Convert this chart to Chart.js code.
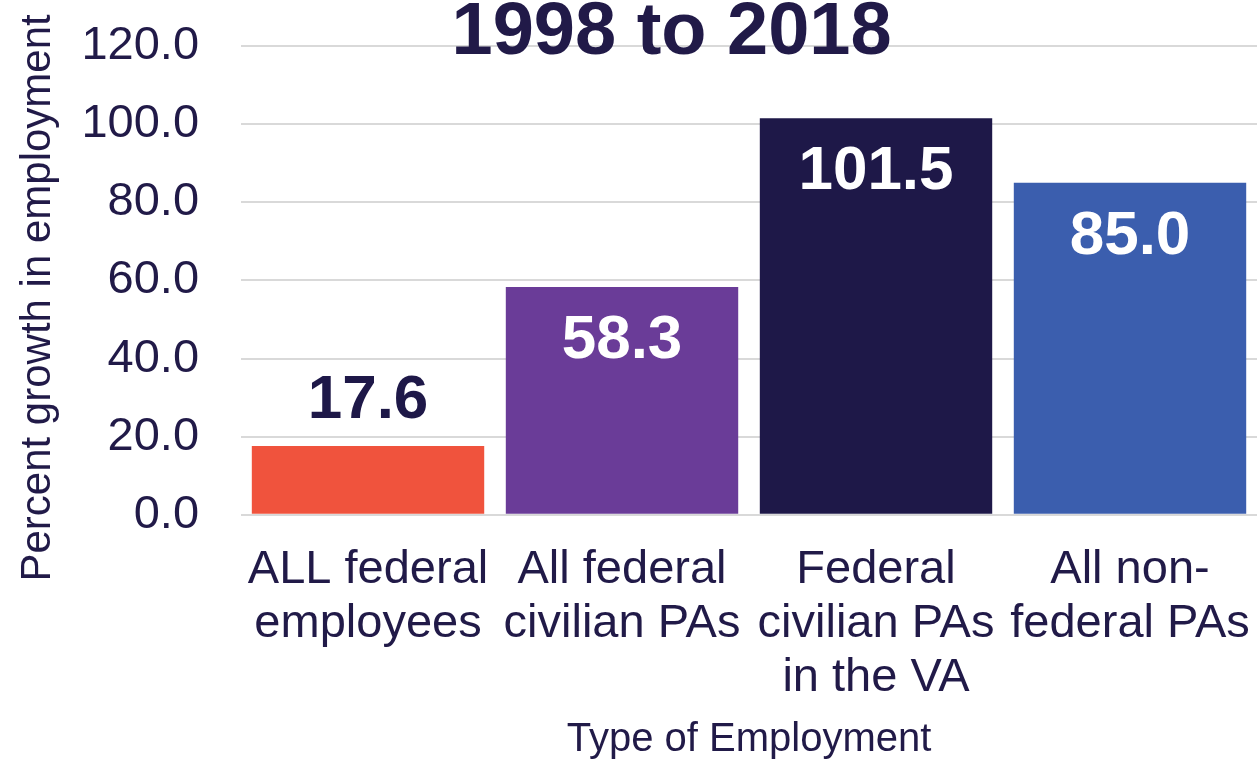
<!DOCTYPE html>
<html>
<head>
<meta charset="utf-8">
<script src="https://cdn.jsdelivr.net/npm/chart.js@4/dist/chart.umd.min.js"></script>
<style>
  html, body { margin: 0; padding: 0; background: #ffffff; }
  #wrap { width: 1260px; height: 765px; position: relative; }
</style>
</head>
<body>
<div id="wrap"><canvas id="myChart" width="1260" height="765"></canvas></div>
<script>
'use strict';

// Chart data
const chartTitle = '1998 to 2018';
const categories = [
   ['ALL federal', 'employees'],
   ['All federal', 'civilian PAs'],
   ['Federal', 'civilian PAs', 'in the VA'],
   ['All non-', 'federal PAs']
];
const growthValues = [17.6, 58.3, 101.5, 85.0];
const barColors = ['#F0533D', '#6A3C98', '#1E1848', '#3B5EAE'];
const labelColors = ['#1E1848', '#ffffff', '#ffffff', '#ffffff'];
const yTicks = [0, 20, 40, 60, 80, 100, 120];
const yTitle = 'Percent growth in employment';
const xTitle = 'Type of Employment';

const textColor = '#211A48';
const fontFamily = 'Arial, "Liberation Sans", sans-serif';

// Draws the value on each bar: above the short one, inside the others.
const valueLabels = {
   id: 'valueLabels',
   afterDatasetsDraw(chart) {
      const ctx = chart.ctx;
      const meta = chart.getDatasetMeta(0);
      ctx.save();
      ctx.font = 'bold 62px ' + fontFamily;
      ctx.textAlign = 'center';
      meta.data.forEach(function (bar, i) {
         const v = growthValues[i];
         ctx.fillStyle = labelColors[i];
         if (v < 30) {
            ctx.textBaseline = 'bottom';
            ctx.fillText(v.toFixed(1), bar.x, bar.y - 14);
         } else {
            ctx.textBaseline = 'top';
            ctx.fillText(v.toFixed(1), bar.x, bar.y + 23);
         }
      });
      ctx.restore();
   }
};

// Big title, overlapping the top of the plot like the original.
const topTitle = {
   id: 'topTitle',
   afterDraw(chart) {
      const ctx = chart.ctx;
      ctx.save();
      ctx.font = 'bold 74px ' + fontFamily;
      ctx.fillStyle = textColor;
      ctx.textAlign = 'center';
      ctx.textBaseline = 'alphabetic';
      ctx.fillText(chartTitle, chart.width * 0.533, 54);
      ctx.restore();
   }
};

const ctx = document.getElementById('myChart');
const myChart = new Chart(ctx, {
   type: 'bar',
   data: {
      labels: categories,
      datasets: [{
         label: yTitle,
         data: growthValues,
         backgroundColor: barColors,
         barPercentage: 0.915,
         categoryPercentage: 1.0
      }]
   },
   options: {
      responsive: false,
      animation: false,
      layout: { padding: { top: 46, left: 13, right: 3, bottom: 0 } },
      plugins: {
         legend: { display: false },
         title: { display: false },
         tooltip: { enabled: false }
      },
      scales: {
         x: {
            grid: { display: false, drawTicks: true, tickLength: 28, tickColor: 'rgba(0,0,0,0)' },
            border: { display: false },
            ticks: {
               color: textColor,
               font: { family: fontFamily, size: 47, lineHeight: 1.15 },
               padding: 0,
               maxRotation: 0,
               autoSkip: false
            },
            title: {
               display: true,
               text: xTitle,
               color: textColor,
               font: { family: fontFamily, size: 40, lineHeight: 1.0 },
               padding: { top: 15, bottom: 5 }
            }
         },
         y: {
            min: 0,
            max: 120,
            afterBuildTicks: function (axis) {
               axis.ticks = yTicks.map(function (v) { return { value: v }; });
            },
            grid: { color: '#D9D9D9', lineWidth: 2, drawTicks: true, tickLength: 42, tickColor: 'rgba(0,0,0,0)' },
            border: { display: false },
            ticks: {
               color: textColor,
               font: { family: fontFamily, size: 47 },
               padding: 0,
               callback: function (v) { return Number(v).toFixed(1); }
            },
            title: {
               display: true,
               text: yTitle + '   ',
               color: textColor,
               font: { family: fontFamily, size: 42 },
               padding: { top: 0, bottom: 18 }
            }
         }
      }
   },
   plugins: [valueLabels, topTitle]
});
</script>
</body>
</html>
